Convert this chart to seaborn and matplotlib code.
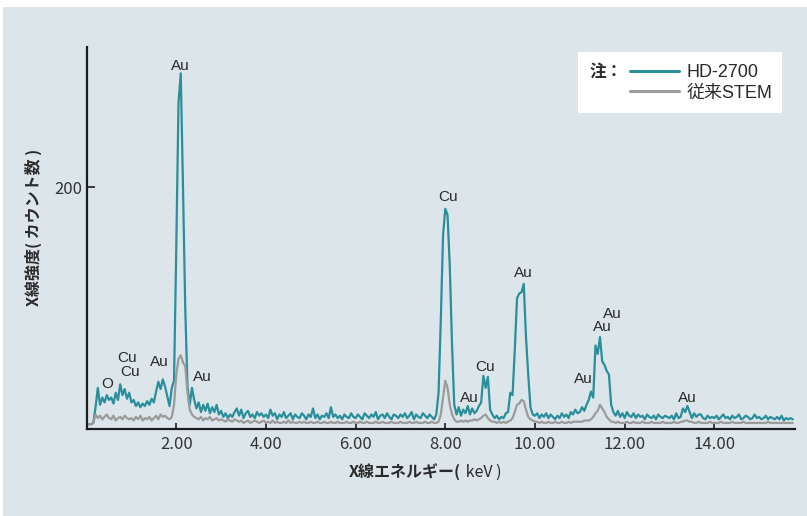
import numpy as np
import pandas as pd
import matplotlib
matplotlib.use("Agg")
import matplotlib.pyplot as plt
import seaborn as sns
from matplotlib.patches import Rectangle
from matplotlib.ticker import StrMethodFormatter

# エネルギー軸 (keV) : 0.05 keV 刻みのチャンネル
energy = np.round(np.arange(316) * 0.05, 2)

# HD-2700 のカウント (1行 = 1 keV 分)
hd2700 = [
    4, 4, 4, 5, 18, 34, 20, 26, 22, 28, 24, 26, 21, 30, 24, 37, 28, 33, 25, 30,
    22, 24, 19, 22, 18, 21, 19, 23, 20, 25, 22, 31, 39, 33, 41, 35, 27, 19, 34, 40,
    150, 270, 294, 200, 100, 35, 20, 34, 24, 17, 22, 14, 20, 15, 21, 13, 18, 14, 20, 12,
    15, 10, 13, 9, 12, 10, 14, 17, 11, 16, 9, 13, 15, 10, 12, 9, 14, 11, 13, 10,
    12, 9, 16, 11, 13, 8, 12, 10, 14, 9, 11, 13, 8, 12, 10, 9, 13, 11, 8, 12,
    10, 17, 9, 12, 8, 11, 10, 13, 9, 18, 10, 12, 9, 11, 8, 12, 10, 9, 13, 10,
    9, 12, 10, 8, 13, 11, 9, 12, 10, 14, 8, 11, 12, 9, 13, 10, 8, 12, 11, 9,
    12, 10, 13, 9, 11, 14, 8, 12, 10, 9, 13, 11, 9, 12, 10, 8, 12, 30, 90, 160,
    182, 177, 135, 70, 20, 12, 18, 11, 16, 13, 19, 12, 17, 13, 15, 19, 22, 44, 34, 43,
    16, 12, 9, 11, 8, 10, 9, 13, 14, 30, 28, 65, 108, 112, 113, 120, 76, 45, 18, 12,
    11, 13, 9, 12, 10, 13, 9, 12, 10, 8, 11, 9, 13, 10, 12, 9, 14, 12, 16, 13,
    14, 18, 15, 20, 24, 31, 26, 69, 62, 76, 56, 53, 48, 45, 20, 14, 11, 15, 10, 13,
    9, 14, 11, 10, 13, 9, 12, 10, 11, 8, 12, 10, 9, 11, 8, 12, 10, 9, 11, 10,
    9, 11, 8, 13, 9, 10, 17, 14, 19, 14, 9, 13, 10, 12, 12, 9, 8, 11, 9, 10,
    9, 11, 8, 10, 12, 9, 10, 8, 11, 9, 10, 12, 8, 9, 11, 10, 8, 9, 12, 9,
    10, 8, 9, 11, 8, 10, 9, 8, 10, 8, 11, 7, 9, 8, 9, 8,
]

# 従来STEM のカウント
conventional = [
    4, 4, 4, 5, 12, 9, 11, 8, 10, 12, 9, 8, 11, 7, 9, 10, 8, 11, 9, 8,
    9, 7, 10, 8, 11, 7, 9, 8, 10, 7, 9, 11, 8, 12, 10, 11, 9, 8, 10, 20,
    45, 58, 61, 55, 52, 30, 16, 12, 10, 9, 8, 10, 7, 9, 8, 10, 7, 8, 9, 7,
    8, 7, 6, 8, 7, 6, 8, 7, 6, 7, 5, 6, 7, 5, 6, 7, 6, 5, 6, 7,
    5, 6, 5, 7, 5, 6, 5, 5, 6, 5, 7, 5, 6, 5, 5, 6, 5, 6, 5, 5,
    6, 5, 5, 6, 5, 5, 6, 5, 5, 6, 5, 5, 6, 5, 5, 5, 6, 5, 5, 6,
    5, 5, 6, 5, 5, 6, 5, 5, 5, 6, 5, 5, 6, 5, 5, 5, 6, 5, 5, 5,
    6, 5, 5, 5, 6, 5, 5, 6, 5, 5, 5, 6, 5, 5, 6, 5, 5, 6, 12, 26,
    40, 34, 20, 12, 8, 6, 6, 7, 6, 7, 6, 7, 7, 8, 7, 8, 9, 11, 12, 9,
    7, 6, 6, 5, 6, 5, 6, 5, 6, 7, 9, 14, 20, 21, 24, 23, 16, 10, 8, 7,
    6, 6, 5, 6, 5, 5, 6, 5, 5, 6, 5, 5, 6, 5, 5, 6, 5, 6, 6, 6,
    6, 6, 7, 7, 7, 8, 10, 13, 15, 20, 17, 14, 10, 8, 6, 6, 5, 6, 5, 5,
    5, 6, 5, 5, 6, 5, 5, 5, 6, 5, 5, 5, 6, 5, 5, 5, 5, 6, 5, 5,
    5, 5, 6, 5, 5, 6, 6, 7, 7, 6, 6, 5, 5, 6, 5, 5, 5, 5, 6, 5,
    5, 5, 5, 6, 5, 5, 5, 5, 6, 5, 5, 5, 5, 6, 5, 5, 5, 5, 5, 5,
    5, 5, 5, 5, 6, 5, 5, 5, 5, 5, 5, 5, 5, 5, 5, 5,
]

# ピークのラベル
peak_names = ["Au", "O", "Cu", "Cu", "Au", "Au", "Cu", "Au", "Cu", "Au", "Au", "Au", "Au", "Au"]
peak_x = [2.08, 0.46, 0.90, 0.98, 1.62, 2.58, 8.06, 8.54, 8.89, 9.75, 11.72, 11.51, 11.09, 13.41]
peak_y = [300, 37, 59, 47, 55, 43, 192, 26, 51, 129, 95, 84, 41, 26]

series_names = ["HD-2700", "従来STEM"]
xticks = [2, 4, 6, 8, 10, 12, 14]
yticks = [200]

n = len(energy)
df = pd.DataFrame({
    "energy": np.concatenate([energy, energy]),
    "counts": hd2700 + conventional,
    "system": [series_names[0]] * n + [series_names[1]] * n,
})

sns.set_style("ticks")
plt.rcParams["font.family"] = ["Noto Sans CJK JP", "DejaVu Sans"]
plt.rcParams["axes.unicode_minus"] = False

W, H = 807, 516
bg = "#dce6ea"
teal = "#2a8e9b"
grey = "#9b9b9b"
dark = "#1c1c1c"

fig = plt.figure(figsize=(W / 100, H / 100), dpi=100, facecolor="white")
# 背景パネル
fig.patches.append(Rectangle((3 / W, 0), 1, 1 - 7 / H, transform=fig.transFigure,
                             facecolor=bg, edgecolor="none", zorder=-1))

ax = fig.add_axes([86.6 / W, (H - 429) / H, (795 - 86.6) / W, (429 - 46.7) / H])
ax.set_facecolor(bg)

sns.lineplot(data=df, x="energy", y="counts", hue="system",
             palette={series_names[0]: teal, series_names[1]: grey},
             linewidth=1.6, estimator=None, errorbar=None, legend=False, ax=ax)

for name, px, py in zip(peak_names, peak_x, peak_y):
    ax.text(px, py, name, ha="center", va="center", fontsize=11, color="#2a2a2a",
            family=["Liberation Sans", "DejaVu Sans"])

ax.set_xlim(0, 15.8)
ax.set_ylim(0, 316)
ax.set_xticks(xticks)
ax.set_yticks(yticks)
ax.xaxis.set_major_formatter(StrMethodFormatter("{x:.2f}"))
ax.set_xlabel("")
ax.set_ylabel("")

sns.despine(ax=ax)
for s in ["left", "bottom"]:
    ax.spines[s].set_linewidth(1.6)
    ax.spines[s].set_color(dark)
ax.tick_params(axis="x", direction="in", length=4, width=1.2, color=dark,
               labelsize=12, labelcolor="#333333", pad=5)
ax.tick_params(axis="y", direction="in", length=6, width=1.2, color=dark,
               labelsize=12, labelcolor="#333333", pad=3)

# 軸ラベル
fig.text(461 / W, 1 - 472 / H, "X線エネルギー(", ha="right", va="center",
         fontsize=11.5, fontweight="bold", color="#2a2a2a")
fig.text(462 / W, 1 - 472 / H, " keV )", ha="left", va="center",
         fontsize=11.5, color="#2a2a2a")
fig.text(33 / W, 1 - 227 / H, "X線強度( カウント数 )", rotation=90,
         ha="center", va="center", fontsize=11.5, fontweight="bold", color="#2a2a2a")

# 凡例
ax.add_patch(Rectangle((578 / W, 1 - 113 / H), 204 / W, 61 / H, transform=fig.transFigure,
                       facecolor="white", edgecolor="none", zorder=4))
ax.text(590 / W, 1 - 72 / H, "注：", transform=fig.transFigure, ha="left", va="center",
        fontsize=12, fontweight="bold", color="#2a2a2a", zorder=6)
leg = ax.legend(handles=ax.lines[:2], labels=series_names, loc="upper left",
                bbox_to_anchor=(630 / W, 1 - 64 / H), bbox_transform=fig.transFigure,
                frameon=False, borderpad=0, borderaxespad=0, handlelength=2.7,
                handletextpad=0.45, labelspacing=0.2,
                prop={"family": ["Liberation Sans", "Noto Sans CJK JP"], "size": 13})
leg.set_zorder(6)
for line in leg.get_lines():
    line.set_linewidth(2.2)
for t in leg.get_texts():
    t.set_color("#2a2a2a")

fig.savefig("out.png", dpi=100, facecolor=fig.get_facecolor())
